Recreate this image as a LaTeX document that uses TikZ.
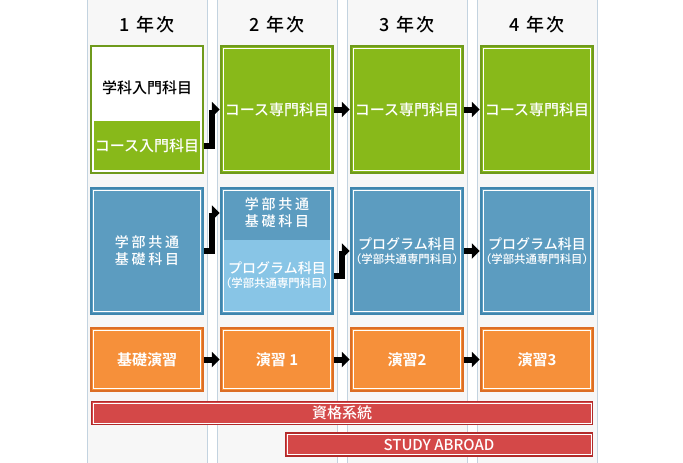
\documentclass[tikz,border=0pt]{standalone}
\usepackage{fontspec}
\setmainfont{Noto Sans CJK JP}[BoldFont={Noto Sans CJK JP Bold}]
\newfontfamily\medfont{Noto Sans CJK JP Medium}
\usetikzlibrary{arrows.meta,positioning}

\definecolor{colbg}{HTML}{F7F7F7}
\definecolor{colline}{HTML}{C3D3E0}
\definecolor{kgreen}{HTML}{88B91A}
\definecolor{kgreenD}{HTML}{6F9A1C}
\definecolor{kblue}{HTML}{5C9CC0}
\definecolor{kblueD}{HTML}{3F86AE}
\definecolor{kblueL}{HTML}{88C5E6}
\definecolor{korange}{HTML}{F6903A}
\definecolor{korangeD}{HTML}{DC6E25}
\definecolor{kred}{HTML}{D44848}
\definecolor{kredD}{HTML}{B22A2A}

\tikzset{
  box/.style={rectangle,draw=#1,line width=2.5pt,inner sep=0pt,
    minimum width=112pt,align=center,text=white,
    path picture={\draw[white,line width=1pt]
      ([xshift=2.5pt,yshift=2.5pt]path picture bounding box.south west) rectangle
      ([xshift=-2.5pt,yshift=-2.5pt]path picture bounding box.north east);}},
  gbox/.style={box=kgreenD,fill=kgreen,minimum height=127pt,
    font=\medfont\fontsize{15}{18}\selectfont},
  bbox/.style={box=kblueD,fill=kblue,minimum height=126pt,
    font=\medfont\fontsize{14}{17}\selectfont},
  obox/.style={box=korangeD,fill=korange,minimum height=63pt,
    font=\bfseries\fontsize{15}{18}\selectfont},
  part/.style={rectangle,inner sep=0pt,minimum width=106pt,align=center,text=white},
  rbar/.style={rectangle,draw=kredD,line width=1.2pt,fill=kred,inner sep=0pt,
    minimum height=23pt,text=white,font=\medfont\fontsize{15}{17}\selectfont,
    path picture={\draw[white,line width=0.8pt]
      ([xshift=1.6pt,yshift=1.6pt]path picture bounding box.south west) rectangle
      ([xshift=-1.6pt,yshift=-1.6pt]path picture bounding box.north east);}},
  year/.style={font=\medfont\fontsize{18}{20}\selectfont\addfontfeature{LetterSpace=15}},
  flow/.style={->,line width=6pt},
}
\newcommand{\subnote}[1]{\makebox[0pt]{\fontsize{11.4}{13}\selectfont #1}}
\newcommand{\spaced}[1]{{\addfontfeature{LetterSpace=20}#1}}

\begin{document}
\begin{tikzpicture}[x=1pt,y=-1pt,>={Triangle[length=8pt,width=15pt]}]
	\useasboundingbox (0,0) rectangle (683,463);
	% year columns
	\foreach \i in {0,...,3} {
		\fill[colbg] (87+130*\i,0) rectangle (207+130*\i,463);
		\draw[colline,line width=1pt] (87+130*\i,0) -- (87+130*\i,463)
			(207+130*\i,0) -- (207+130*\i,463);
	}
	\node[year] (y1) at (147,25) {1 年次};
	\node[year] (y2) at (277,25) {2 年次};
	\node[year] (y3) at (407,25) {3 年次};
	\node[year] (y4) at (537,25) {4 年次};
	% course subjects
	\node[gbox,fill=white] (g1) at (147,109.5) {};
	\node[part,fill=kgreen,minimum height=49pt,font=\medfont\fontsize{15}{18}\selectfont]
		(g1low) at (147,145.5) {コース入門科目};
	\node[font=\medfont\fontsize{15}{18}\selectfont] (g1top) at (147,88) {学科入門科目};
	\node[gbox] (g2) at (277,109.5) {コース専門科目};
	\node[gbox] (g3) at (407,109.5) {コース専門科目};
	\node[gbox] (g4) at (537,109.5) {コース専門科目};
	% faculty common / program subjects
	\node[bbox] (b1) at (147,251) {\spaced{学部共通}\\\spaced{基礎科目}};
	\node[bbox] (b2) at (277,251) {};
	\node[font=\medfont\fontsize{14}{17}\selectfont,align=center,text=white]
		(b2top) at (277,213) {\spaced{学部共通}\\\spaced{基礎科目}};
	\node[part,fill=kblueL,minimum height=71pt,font=\medfont\fontsize{14}{17}\selectfont]
		(b2low) at (277,275.5) {プログラム科目\\[-3pt]\subnote{（学部共通専門科目）}};
	\node[bbox] (b3) at (407,251) {プログラム科目\\[-3pt]\subnote{（学部共通専門科目）}};
	\node[bbox] (b4) at (537,251) {プログラム科目\\[-3pt]\subnote{（学部共通専門科目）}};
	% seminars
	\node[obox] (o1) at (147,359.5) {基礎演習};
	\node[obox] (o2) at (277,359.5) {演習 1};
	\node[obox] (o3) at (407,359.5) {演習2};
	\node[obox] (o4) at (537,359.5) {演習3};
	% bars
	\node[rbar,minimum width=501pt] (r1) at (342,413) {資格系統};
	\node[rbar,minimum width=307pt] (r2) at (439,444.5) {STUDY ABROAD};
	% arrows
	\draw[flow] (g1.east |- g1low) -- ++(8,0) |- (g2.west);
	\draw[flow] (g2) -- (g3);
	\draw[flow] (g3) -- (g4);
	\draw[flow] (b1.east) -- ++(8,0) |- (b2.west |- b2top);
	\draw[flow] (b2.east |- b2low) -- ++(8,0) |- (b3.west);
	\draw[flow] (b3) -- (b4);
	\draw[flow] (o1) -- (o2);
	\draw[flow] (o2) -- (o3);
	\draw[flow] (o3) -- (o4);
\end{tikzpicture}
\end{document}
